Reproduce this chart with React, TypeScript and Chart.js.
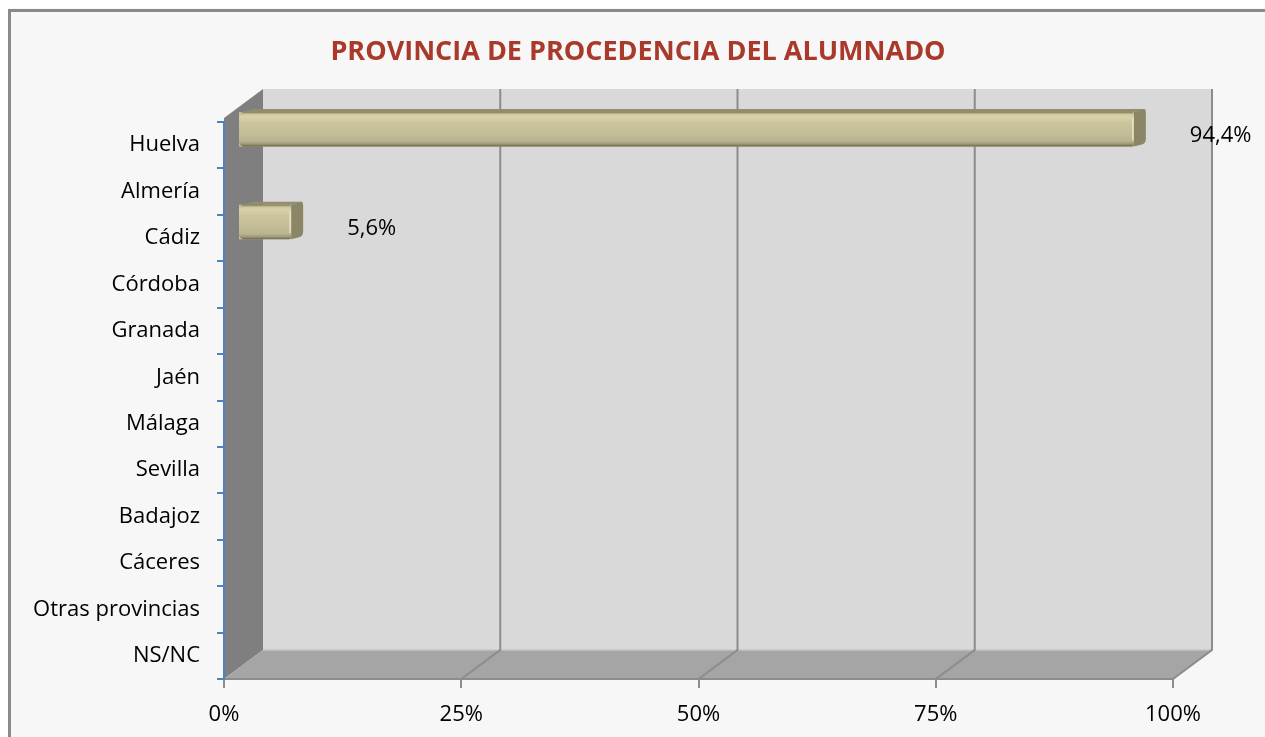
import React, { useEffect, useRef } from 'react';
import { Chart, registerables } from 'chart.js';

Chart.register(...registerables);

const chartTitle = 'PROVINCIA DE PROCEDENCIA DEL ALUMNADO';
const categories = [
  'Huelva', 'Almería', 'Cádiz', 'Córdoba', 'Granada', 'Jaén',
  'Málaga', 'Sevilla', 'Badajoz', 'Cáceres', 'Otras provincias', 'NS/NC',
];
const percentages = [94.4, 0, 5.6, 0, 0, 0, 0, 0, 0, 0, 0, 0];
const xTickValues = [0, 25, 50, 75, 100];

const FONT = '"Open Sans", "Noto Sans", sans-serif';
const W = 1257;
const H = 729;
const WALL_DX = 39;
const WALL_DY = -29;
const BAR_DX = 14;
const BAR_DY = -16;
const CAP_DX = 12;
const CAP_DY = -3;

const fmt = (v: number) => v.toFixed(1).replace('.', ',') + '%';

const scenePlugin = {
  id: 'scene3d',
  beforeDraw(chart: any) {
    const { ctx, chartArea: a, scales } = chart;
    const x = scales.x;
    ctx.save();
    ctx.fillStyle = '#f7f7f7';
    ctx.fillRect(0, 0, chart.width, chart.height);
    // outer border (left & top visible)
    ctx.strokeStyle = '#8a8a8a';
    ctx.lineWidth = 3;
    ctx.beginPath();
    ctx.moveTo(1.5, chart.height);
    ctx.lineTo(1.5, 2.5);
    ctx.lineTo(chart.width, 2.5);
    ctx.stroke();

    const bl = a.left + WALL_DX;
    const br = a.right + WALL_DX;
    const bt = a.top - 33;
    const bb = a.bottom + WALL_DY;
    // back wall
    ctx.fillStyle = '#d9d9d9';
    ctx.fillRect(bl, bt, br - bl, bb - bt);
    // side wall
    ctx.fillStyle = '#7f7f7f';
    ctx.beginPath();
    ctx.moveTo(a.left, a.top - 4);
    ctx.lineTo(bl, bt);
    ctx.lineTo(bl, bb);
    ctx.lineTo(a.left, a.bottom);
    ctx.closePath();
    ctx.fill();
    // floor
    ctx.fillStyle = '#a5a5a5';
    ctx.beginPath();
    ctx.moveTo(a.left, a.bottom);
    ctx.lineTo(bl, bb);
    ctx.lineTo(br, bb);
    ctx.lineTo(a.right, a.bottom);
    ctx.closePath();
    ctx.fill();
    ctx.strokeStyle = '#c4c4c4';
    ctx.lineWidth = 1.5;
    ctx.beginPath();
    ctx.moveTo(bl, bb);
    ctx.lineTo(br, bb);
    ctx.stroke();
    // gridlines
    ctx.strokeStyle = '#8c8c8c';
    ctx.lineWidth = 2;
    for (const t of xTickValues) {
      if (t === 0) continue;
      const fx = x.getPixelForValue(t);
      ctx.beginPath();
      ctx.moveTo(fx, a.bottom);
      ctx.lineTo(fx + WALL_DX, bb);
      ctx.lineTo(fx + WALL_DX, bt);
      ctx.stroke();
    }
    ctx.beginPath();
    ctx.moveTo(a.left, a.bottom);
    ctx.lineTo(a.right, a.bottom);
    ctx.stroke();

    // title
    ctx.fillStyle = '#a93a2b';
    ctx.font = `bold 27px ${FONT}`;
    ctx.textAlign = 'center';
    ctx.textBaseline = 'middle';
    ctx.fillText(chartTitle, 630, 44);
    ctx.restore();
  },
  beforeDatasetsDraw(chart: any) {
    chart.ctx.save();
    chart.ctx.translate(BAR_DX, BAR_DY);
  },
  afterDatasetsDraw(chart: any) {
    const ctx = chart.ctx;
    const meta = chart.getDatasetMeta(0);
    meta.data.forEach((el: any, i: number) => {
      const v = percentages[i];
      if (!v) return;
      const { x, y, base, height } = el.getProps(['x', 'y', 'base', 'height'], true);
      const top = y - height / 2;
      const bot = y + height / 2;
      // top face
      ctx.fillStyle = '#928d6f';
      ctx.beginPath();
      ctx.moveTo(base + 3, top);
      ctx.lineTo(base + 3 + CAP_DX, top + CAP_DY);
      ctx.lineTo(x + CAP_DX, top + CAP_DY);
      ctx.lineTo(x, top);
      ctx.closePath();
      ctx.fill();
      // right cap
      ctx.fillStyle = '#8a8666';
      ctx.beginPath();
      ctx.moveTo(x, top);
      ctx.lineTo(x + CAP_DX - 2, top + CAP_DY);
      ctx.quadraticCurveTo(x + CAP_DX, top + CAP_DY, x + CAP_DX, top + CAP_DY + 4);
      ctx.lineTo(x + CAP_DX, bot + CAP_DY - 5);
      ctx.quadraticCurveTo(x + CAP_DX, bot + CAP_DY, x + CAP_DX - 4, bot + CAP_DY + 1);
      ctx.lineTo(x, bot);
      ctx.closePath();
      ctx.fill();
      // front face
      const g = ctx.createLinearGradient(0, top, 0, bot);
      g.addColorStop(0, '#7f7a5c');
      g.addColorStop(0.06, '#cdc69e');
      g.addColorStop(0.14, '#dad3a9');
      g.addColorStop(0.3, '#cbc59e');
      g.addColorStop(0.6, '#c4bf98');
      g.addColorStop(0.84, '#b9b491');
      g.addColorStop(0.93, '#9e9978');
      g.addColorStop(1, '#6c6850');
      ctx.fillStyle = g;
      ctx.beginPath();
      (ctx as any).roundRect(base, top, x - base, height, [5, 2, 2, 5]);
      ctx.fill();
      // highlight at front edge of cap
      ctx.strokeStyle = 'rgba(240,235,205,0.8)';
      ctx.lineWidth = 1.5;
      ctx.beginPath();
      ctx.moveTo(x - 1, top + 6);
      ctx.lineTo(x - 1, bot - 6);
      ctx.stroke();
    });
    ctx.restore();
  },
  afterDraw(chart: any) {
    const ctx = chart.ctx;
    const meta = chart.getDatasetMeta(0);
    ctx.save();
    ctx.fillStyle = '#000000';
    ctx.font = `22px ${FONT}`;
    ctx.textAlign = 'left';
    ctx.textBaseline = 'middle';
    meta.data.forEach((el: any, i: number) => {
      const v = percentages[i];
      if (!v) return;
      ctx.fillText(fmt(v), el.x + 70, el.y - 9);
    });
    ctx.restore();
  },
};

export default function App() {
  const ref = useRef<HTMLCanvasElement | null>(null);
  useEffect(() => {
    if (!ref.current) return;
    const chart = new Chart(ref.current, {
      type: 'bar',
      data: {
        labels: categories,
        datasets: [
          {
            data: percentages,
            backgroundColor: '#c5c09a',
            borderWidth: 0,
            barPercentage: 0.74,
            categoryPercentage: 1,
            clip: false as any,
          },
        ],
      },
      options: {
        indexAxis: 'y',
        animation: false,
        responsive: false,
        devicePixelRatio: 1,
        layout: { padding: { top: 114, right: 92, bottom: 0, left: 0 } },
        plugins: {
          legend: { display: false },
          title: { display: false },
          tooltip: { enabled: false },
        },
        scales: {
          x: {
            min: 0,
            max: 100,
            afterBuildTicks: (s: any) => {
              s.ticks = xTickValues.map((v) => ({ value: v }));
            },
            afterFit: (s: any) => {
              s.height = 58;
            },
            ticks: {
              callback: (v: any) => v + '%',
              color: '#000000',
              font: { family: FONT, size: 22 },
              padding: 14,
              maxRotation: 0,
            },
            grid: {
              display: true,
              drawOnChartArea: false,
              drawTicks: true,
              tickLength: 9,
              color: '#8c8c8c',
              lineWidth: 2,
            },
            border: { display: false },
          },
          y: {
            afterFit: (s: any) => {
              s.width = 216;
            },
            ticks: {
              color: '#000000',
              font: { family: FONT, size: 22 },
              padding: 17,
              autoSkip: false,
            },
            grid: {
              display: true,
              offset: true,
              drawOnChartArea: false,
              drawTicks: true,
              tickLength: 7,
              color: '#4f81bd',
              lineWidth: 2,
            },
            border: { display: true, color: '#4f81bd', width: 2 },
          },
        },
      } as any,
      plugins: [scenePlugin],
    });
    return () => chart.destroy();
  }, []);

  return (
    <div style={{ position: 'absolute', left: 8, top: 8, width: W, height: H, overflow: 'hidden' }}>
      <canvas ref={ref} width={W} height={H} style={{ display: 'block' }} />
    </div>
  );
}
